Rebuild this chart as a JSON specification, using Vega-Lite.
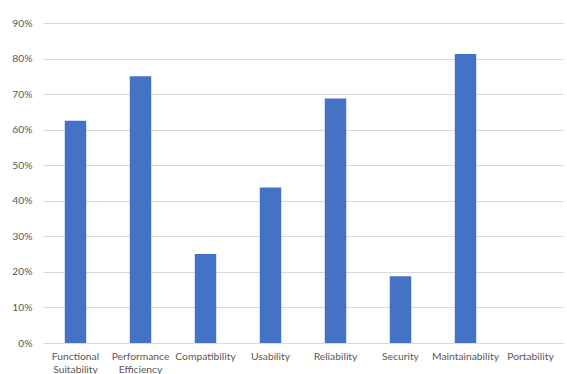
{
  "$schema": "https://vega.github.io/schema/vega-lite/v6.json",
  "autosize": {"type": "none"},
  "width": 520,
  "height": 320,
  "padding": {"left": 43, "top": 23, "right": 4, "bottom": 31},
  "background": "white",
  "data": {"values": [
    {"category": "Functional Suitability", "value": 0.625},
    {"category": "Performance Efficiency", "value": 0.75},
    {"category": "Compatibility", "value": 0.25},
    {"category": "Usability", "value": 0.4375},
    {"category": "Reliability", "value": 0.6875},
    {"category": "Security", "value": 0.1875},
    {"category": "Maintainability", "value": 0.8125},
    {"category": "Portability", "value": 0}
  ]},
  "mark": {"type": "bar", "color": "#4472C4"},
  "encoding": {
    "x": {
      "field": "category", "type": "nominal", "sort": null,
      "scale": {"paddingInner": 0.67, "paddingOuter": 0.335},
      "axis": {
        "title": null, "labelAngle": 0, "ticks": false,
        "domainColor": "#d9d9d9", "labelColor": "#595959",
        "labelFont": "Lato", "labelFontSize": 10.3, "labelPadding": 8,
        "labelLineHeight": 13, "labelLimit": 200,
        "labelExpr": "split(datum.label, ' ')"
      }
    },
    "y": {
      "field": "value", "type": "quantitative",
      "scale": {"domain": [0, 0.9]},
      "axis": {
        "title": null, "format": ".0%", "values": [0,0.1,0.2,0.3,0.4,0.5,0.6,0.7,0.8,0.9],
        "ticks": false, "domain": false, "gridColor": "#d9d9d9",
        "labelColor": "#595959", "labelFont": "Lato", "labelFontSize": 10.3,
        "labelPadding": 11
      }
    }
  },
  "config": {"view": {"stroke": null}}
}
